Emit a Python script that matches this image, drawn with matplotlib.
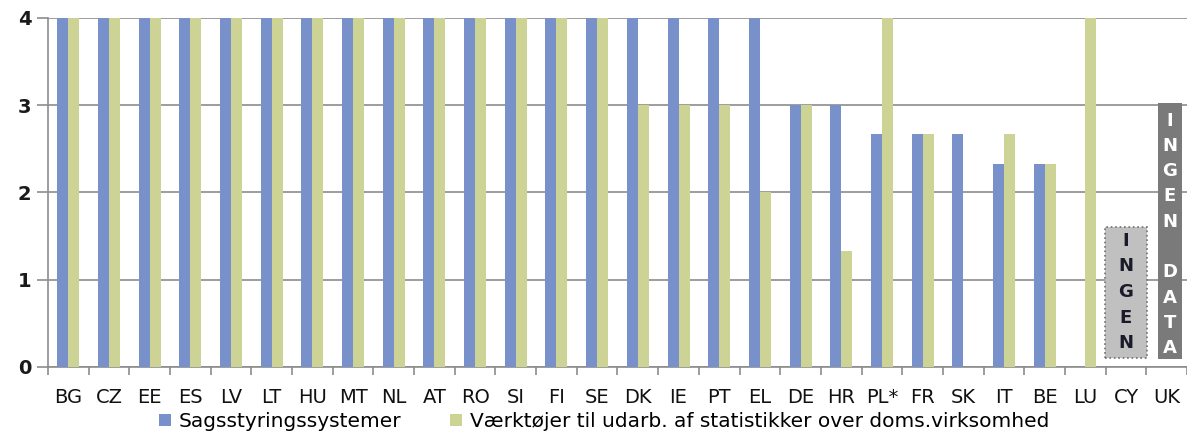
import matplotlib
matplotlib.use("Agg")
import matplotlib.pyplot as plt
import numpy as np
from matplotlib.patches import Rectangle, Patch

categories = ["BG", "CZ", "EE", "ES", "LV", "LT", "HU", "MT", "NL", "AT", "RO", "SI", "FI", "SE",
              "DK", "IE", "PT", "EL", "DE", "HR", "PL*", "FR", "SK", "IT", "BE", "LU", "CY", "UK"]
sagsstyring = [4, 4, 4, 4, 4, 4, 4, 4, 4, 4, 4, 4, 4, 4,
               4, 4, 4, 4, 3, 3, 2.67, 2.67, 2.67, 2.33, 2.33, 0, 0, 0]
vaerktoejer = [4, 4, 4, 4, 4, 4, 4, 4, 4, 4, 4, 4, 4, 4,
               3, 3, 3, 2, 3, 1.33, 4, 2.67, 0, 2.67, 2.33, 4, 0, 0]
series_names = ["Sagsstyringssystemer", "Værktøjer til udarb. af statistikker over doms.virksomhed"]

blue = "#7891CA"
green = "#CDD295"

W, H = 1187, 434
fig = plt.figure(figsize=(W / 100, H / 100), dpi=100)
ax = fig.add_axes([48 / W, (H - 367) / H, (W - 48) / W, (367 - 18) / H])

x = np.arange(len(categories))
bw = 0.27
ax.bar(x - bw / 2, sagsstyring, bw, color=blue, zorder=3)
ax.bar(x + bw / 2, vaerktoejer, bw, color=green, zorder=3)

ax.set_xlim(-0.5, len(categories) - 0.5)
ax.set_ylim(0, 4)
ax.set_yticks([0, 1, 2, 3, 4])
ax.set_yticklabels(["0", "1", "2", "3", "4"], fontsize=14, fontweight="bold", color="#1a1a1a")
ax.yaxis.grid(True, color="#8c8c8c", linewidth=1.2, zorder=0)
ax.set_axisbelow(True)

ax.set_xticks(x)
ax.set_xticklabels(categories, fontsize=14, color="#111111")
ax.set_xticks(np.arange(len(categories) + 1) - 0.5, minor=True)
ax.tick_params(axis="x", which="major", length=0, pad=15)
ax.tick_params(axis="x", which="minor", length=6, color="#8c8c8c", width=1.2)
ax.tick_params(axis="y", length=8, color="#8c8c8c", width=1.2, pad=4)

for s in ["top", "right"]:
    ax.spines[s].set_visible(False)
for s in ["left", "bottom"]:
    ax.spines[s].set_color("#8c8c8c")
    ax.spines[s].set_linewidth(1.2)

# "INGEN" box for CY
cy = categories.index("CY")
ax.add_patch(Rectangle((cy - 0.51, 0.1), 1.02, 1.5, facecolor="#c0c0c0", edgecolor="#707070",
                       linestyle=":", linewidth=1.2, zorder=4))
ax.text(cy, 0.86, "I\nN\nG\nE\nN", ha="center", va="center", fontsize=13, fontweight="bold",
        color="#1a1a2a", linespacing=1.55, zorder=5)

# "INGEN DATA" box for UK
uk = categories.index("UK")
ax.add_patch(Rectangle((uk + 0.08 - 0.295, 0.09), 0.59, 2.94, facecolor="#7a7a7a",
                       edgecolor="none", zorder=4))
ax.text(uk + 0.08, 1.52, "I\nN\nG\nE\nN\n\nD\nA\nT\nA", ha="center", va="center", fontsize=13,
        fontweight="bold", color="white", linespacing=1.52, zorder=5)

handles = [Patch(facecolor=blue), Patch(facecolor=green)]
fig.legend(handles, series_names, loc="lower center", bbox_to_anchor=(604 / W, -0.035), ncol=2,
           frameon=False, fontsize=14.5, handlelength=0.6, handleheight=0.6, handletextpad=0.4,
           columnspacing=2.4)

fig.savefig("out.png", dpi=100)
